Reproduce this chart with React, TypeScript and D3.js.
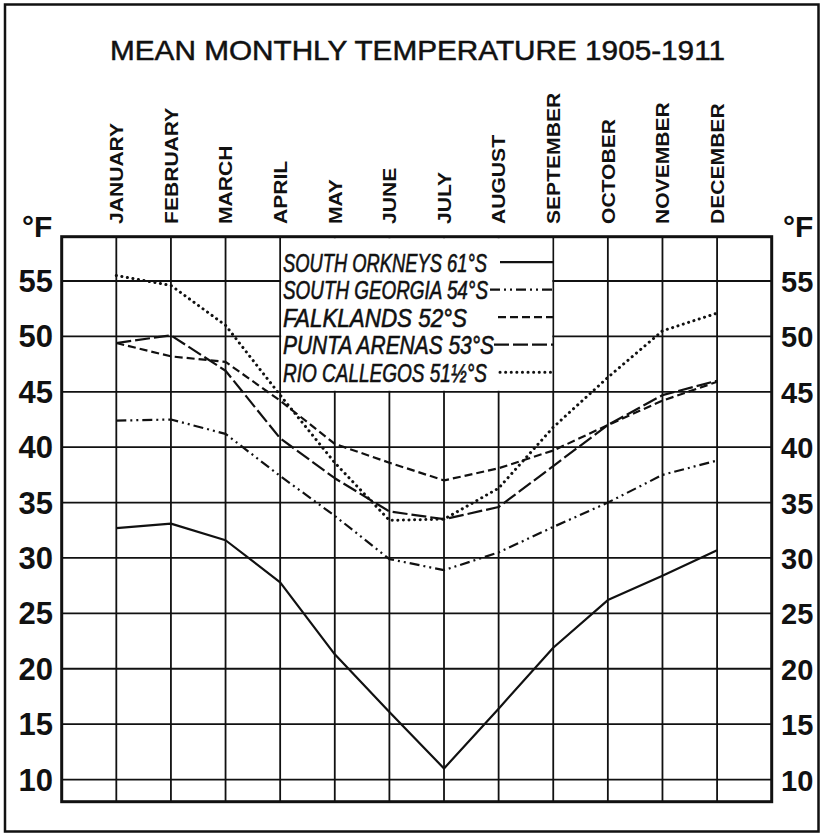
import React from "react";
import * as d3 from "d3";

const months = ["JANUARY","FEBRUARY","MARCH","APRIL","MAY","JUNE","JULY","AUGUST","SEPTEMBER","OCTOBER","NOVEMBER","DECEMBER"];
const yTicks = [10, 15, 20, 25, 30, 35, 40, 45, 50, 55];

const southOrkneys = [32.7, 33.1, 31.6, 27.8, 21.3, 16.1, 11.0, 16.4, 21.9, 26.2, 28.4, 30.7];
const southGeorgia = [42.4, 42.5, 41.2, 37.4, 33.8, 29.9, 28.9, 30.5, 32.8, 35.0, 37.5, 38.8];
const falklands = [49.4, 48.2, 47.7, 44.2, 40.3, 38.6, 37.0, 38.1, 39.7, 42.0, 44.2, 45.9];
const puntaArenas = [49.4, 50.1, 46.9, 40.8, 37.2, 34.2, 33.5, 34.6, 38.3, 42.0, 44.7, 46.0];
const rioGallegos = [55.5, 54.6, 51.0, 44.7, 38.6, 33.4, 33.5, 36.3, 41.8, 46.3, 50.5, 52.1];

const seriesNames = ["SOUTH ORKNEYS 61°S", "SOUTH GEORGIA 54°S", "FALKLANDS  52°S", "PUNTA ARENAS 53°S", "RIO CALLEGOS 51½°S"];

const W = 825, H = 834;
const FONT = "'Liberation Sans', Arial, sans-serif";

export default function App() {
  const x = d3.scaleLinear().domain([-1, 12]).range([61.7, 771.7]);
  const y = d3.scaleLinear().domain([8, 59]).range([801.7, 236.7]);
  const line = d3.line<number>().x((_, i) => x(i)).y((d) => y(d));

  const styles = [
    { dash: "none", width: 2.2, cap: "butt" },
    { dash: "10,4,2,4,2,4", width: 2.2, cap: "butt" },
    { dash: "8,4", width: 2.2, cap: "butt" },
    { dash: "15,4", width: 2.2, cap: "butt" },
    { dash: "0.1,5.5", width: 3, cap: "round" },
  ];
  const series = [southOrkneys, southGeorgia, falklands, puntaArenas, rioGallegos];

  const legendTextLen = [204, 205, 184, 211, 204];
  const legendLineStart = [500, 490, 498, 494, 500];
  const baseY = 271.7;
  const rowH = 27.5;

  const [x0, x1] = x.range();
  const [yb, yt] = y.range();
  const legX0 = x(3), legX1 = x(8), legY1 = y(45);

  return (
    <svg width={W} height={H} style={{ position: "absolute", left: 0, top: 0, background: "#fff" }}>
      <rect x={0} y={0} width={W} height={H} fill="#fff" />
      {/* outer frame */}
      <rect x={5} y={4.5} width={813.5} height={827} fill="none" stroke="#111" strokeWidth={2.5} />
      {/* title */}
      <text x={110} y={60} textLength={615} lengthAdjust="spacingAndGlyphs" fontFamily={FONT} fontSize={28} fill="#111" stroke="#111" strokeWidth={0.5}>
        MEAN MONTHLY TEMPERATURE 1905-1911
      </text>
      {/* month labels */}
      {months.map((m, i) => (
        <text key={m} transform={`translate(${x(i) + 6.8},${224}) rotate(-90) scale(1.14,1)`} fontFamily={FONT} fontWeight="bold" fontSize={18.5} fill="#111">
          {m}
        </text>
      ))}
      {/* degree F */}
      <text x={22} y={237} fontFamily={FONT} fontWeight="bold" fontSize={30} fill="#111">°F</text>
      <text x={783} y={237} fontFamily={FONT} fontWeight="bold" fontSize={30} fill="#111">°F</text>
      {/* y tick labels */}
      {yTicks.map((t) => (
        <g key={t}>
          <text x={53} y={y(t) + 11} textAnchor="end" fontFamily={FONT} fontWeight="bold" fontSize={31} fill="#111">{t}</text>
          <text x={781} y={y(t) + 11} textAnchor="start" fontFamily={FONT} fontWeight="bold" fontSize={29} fill="#111">{t}</text>
        </g>
      ))}
      {/* gridlines */}
      {yTicks.map((t) => (
        <line key={"h" + t} x1={x0} x2={x1} y1={y(t)} y2={y(t)} stroke="#111" strokeWidth={1.8} />
      ))}
      {months.map((m, i) => (
        <line key={"v" + m} x1={x(i)} x2={x(i)} y1={yb} y2={yt} stroke="#111" strokeWidth={1.8} />
      ))}
      {/* legend box */}
      <rect x={legX0 + 1} y={yt + 1.5} width={legX1 - legX0 - 2} height={legY1 - yt - 2.5} fill="#fff" />
      {seriesNames.map((n, i) => (
        <g key={n}>
          <text x={283} y={baseY + i * rowH} textLength={legendTextLen[i]} lengthAdjust="spacingAndGlyphs" fontFamily={FONT} fontStyle="italic" fontSize={25} fill="#111" stroke="#111" strokeWidth={0.6}>
            {n}
          </text>
          <line x1={legendLineStart[i]} x2={legX1} y1={baseY + i * rowH - 9.5} y2={baseY + i * rowH - 9.5} stroke="#111" strokeWidth={styles[i].width} strokeDasharray={styles[i].dash} strokeLinecap={styles[i].cap as any} />
        </g>
      ))}
      {/* plot frame */}
      <rect x={x0} y={yt} width={x1 - x0} height={yb - yt} fill="none" stroke="#111" strokeWidth={3} />
      {/* data lines */}
      {series.map((s, i) => (
        <path key={i} d={line(s) || ""} fill="none" stroke="#111" strokeWidth={styles[i].width} strokeDasharray={styles[i].dash} strokeLinecap={styles[i].cap as any} strokeLinejoin="round" />
      ))}
    </svg>
  );
}
